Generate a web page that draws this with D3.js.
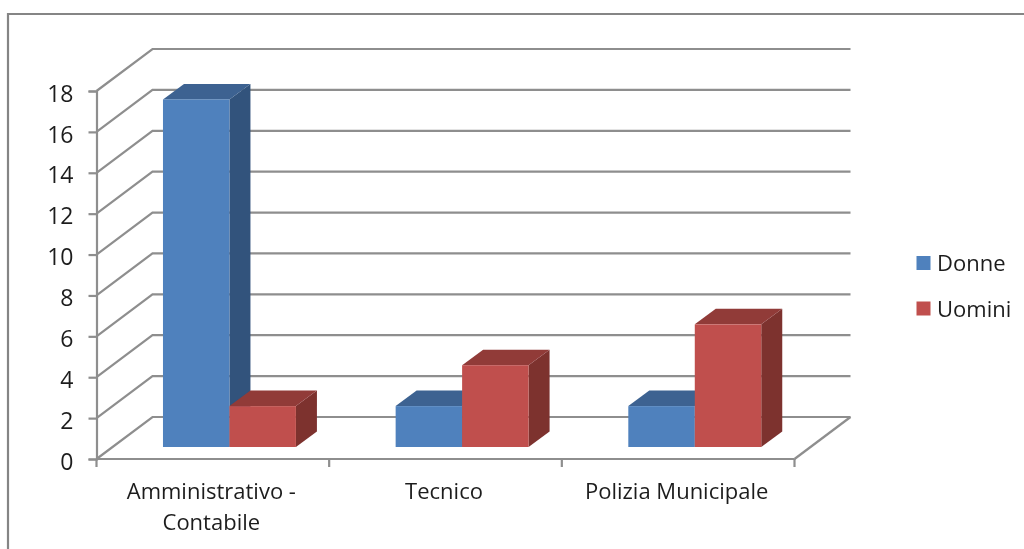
<!DOCTYPE html>
<html><head><meta charset="utf-8">
<script src="https://cdn.jsdelivr.net/npm/d3@7"></script>
<style>html,body{margin:0;padding:0;background:#fff}svg{display:block}text{font-family:"Open Sans",sans-serif;fill:#1e1e1e}</style>
</head><body><svg id="c" width="1024" height="549"></svg>
<script>
const categories = ["Amministrativo -|Contabile", "Tecnico", "Polizia Municipale"];
const seriesNames = ["Donne", "Uomini"];
const donne = [17, 2, 2];
const uomini = [2, 4, 6];
const yTicks = [0, 2, 4, 6, 8, 10, 12, 14, 16, 18];
const fills = {Donne: ["#4F81BD", "#3C6291", "#31527B"], Uomini: ["#C0504D", "#913B39", "#7D312F"]};
const GRID = "#8e8e8e";

const svg = d3.select("#c");
const root = svg.append("g").attr("filter", "url(#soft)");
svg.append("defs").append("filter").attr("id", "soft")
  .attr("x", 0).attr("y", 0)
  .attr("filterUnits", "userSpaceOnUse").attr("width", 1024).attr("height", 549)
  .append("feGaussianBlur").attr("stdDeviation", 0.55);
root.append("rect").attr("width", 1024).attr("height", 549).attr("fill", "#fff");

// frame
root.append("path").attr("d", "M8,549V14H1024").attr("fill", "none").attr("stroke", "#858585").attr("stroke-width", 2.2);

const x = d3.scaleBand().domain(categories).range([96.5, 794.5]);
const y = d3.scaleLinear().domain([0, 18]).range([459, 91]);
const wall = {dx: 56, dy: -42};
const gap = {dx: 16, dy: -12};
const depth = {dx: 21, dy: -15.5};
const barW = x.bandwidth() * 0.2857;

// gridlines and side wall
root.append("g").selectAll("path").data(yTicks).join("path")
  .attr("d", t => `M${x.range()[0]},${y(t)}l${wall.dx},${wall.dy}H${x.range()[1] + wall.dx}`)
  .attr("fill", "none").attr("stroke", GRID).attr("stroke-width", 2.2);
// floor front right edge
root.append("path")
  .attr("d", `M${x.range()[1]},${y(0)}l${wall.dx},${wall.dy}`)
  .attr("fill", "none").attr("stroke", GRID).attr("stroke-width", 2.2);

// axes
const yAxis = d3.axisLeft(y).tickValues(yTicks).tickSize(8).tickPadding(15);
const gy = root.append("g").attr("transform", `translate(${x.range()[0]},0)`).call(yAxis);
gy.selectAll("path.domain").attr("stroke", GRID).attr("stroke-width", 2.2);
gy.selectAll("line").attr("stroke", GRID).attr("stroke-width", 2.2);
gy.selectAll("text").attr("font-size", 23).attr("font-family", null).attr("dy", "0.44em").style("fill", "#1e1e1e");

const gx = root.append("g");
gx.append("line").attr("x1", x.range()[0]).attr("x2", x.range()[1]).attr("y1", y(0)).attr("y2", y(0))
  .attr("stroke", GRID).attr("stroke-width", 2.2);
gx.selectAll("line.t").data([0, 1, 2, 3]).join("line").attr("class", "t")
  .attr("x1", i => x.range()[0] + i * x.bandwidth()).attr("x2", i => x.range()[0] + i * x.bandwidth())
  .attr("y1", y(0)).attr("y2", y(0) + 8).attr("stroke", GRID).attr("stroke-width", 2.2);
gx.selectAll("text").data(categories).join("text")
  .attr("text-anchor", "middle").attr("font-size", 22)
  .each(function (c) {
    const t = d3.select(this);
    c.split("|").forEach((s, i) => t.append("tspan")
      .attr("x", x(c) + x.bandwidth() / 2 - 1.5).attr("y", 499 + i * 31).text(s));
  });

// bars
function bar(g, xl, val, name) {
  const [front, top, side] = fills[name];
  const yb = y(0) + gap.dy, yt = y(val) + gap.dy;
  g.append("path").attr("fill", side)
    .attr("d", `M${xl + barW},${yt}l${depth.dx},${depth.dy}V${yb + depth.dy}l${-depth.dx},${-depth.dy}Z`);
  g.append("path").attr("fill", top)
    .attr("d", `M${xl},${yt}l${depth.dx},${depth.dy}H${xl + barW + depth.dx}l${-depth.dx},${-depth.dy}Z`);
  g.append("rect").attr("x", xl).attr("y", yt).attr("width", barW).attr("height", yb - yt).attr("fill", front);
}
const bars = root.append("g");
categories.forEach((c, i) => {
  const x0 = x(c) + x.bandwidth() * 0.2857;
  bar(bars, x0, donne[i], "Donne");
  bar(bars, x0 + barW, uomini[i], "Uomini");
});

// legend
const lg = root.append("g");
seriesNames.forEach((n, i) => {
  const yy = 263 + i * 45.5;
  lg.append("rect").attr("x", 916.5).attr("y", yy - 7).attr("width", 14).attr("height", 14).attr("fill", fills[n][0]);
  lg.append("text").attr("x", 937).attr("y", yy + 8).attr("font-size", 22).text(n);
});
</script></body></html>
